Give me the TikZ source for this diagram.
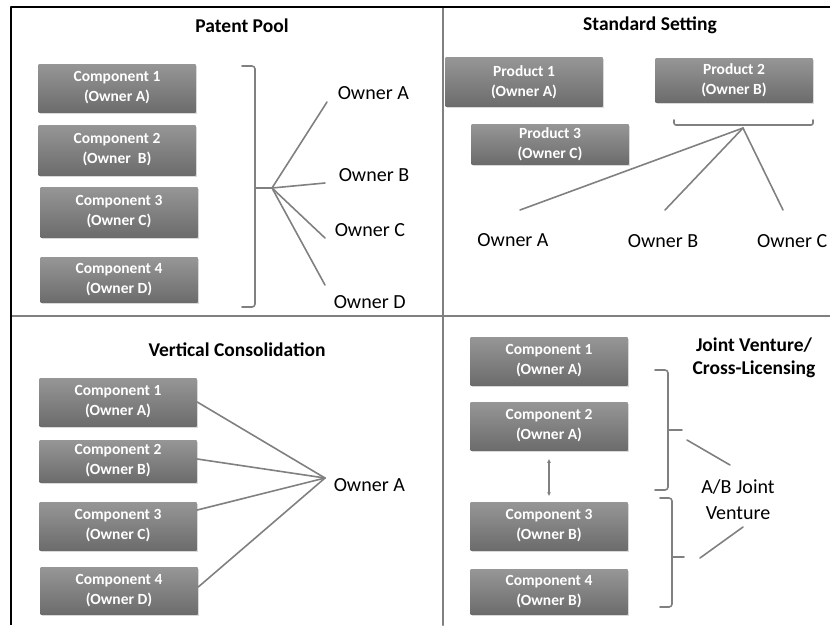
\documentclass[tikz,border=0pt]{standalone}
\usepackage{fontspec}
\setmainfont{Carlito}
\usetikzlibrary{shadows,arrows.meta}
\definecolor{bloccoalto}{RGB}{150,150,150}
\definecolor{bloccobasso}{RGB}{108,108,108}
\definecolor{grigiolinea}{RGB}{128,128,128}

\begin{document}
\begin{tikzpicture}[x=1pt, y=-1pt, line width=1.5pt, line cap=round, line join=round,
    blocco/.style={rectangle, top color=bloccoalto, bottom color=bloccobasso,
        minimum width=157pt, minimum height=48pt, inner sep=0pt, text=white,
        font=\fontsize{15.5}{20}\selectfont\bfseries, align=center,
        drop shadow={shadow xshift=1pt, shadow yshift=-1.5pt, opacity=0.3}},
    titolo/.style={font=\fontsize{19.5}{23}\selectfont\bfseries, align=center},
    proprietario/.style={font=\fontsize{20}{26}\selectfont, align=center, inner sep=0pt},
    filo/.style={draw=grigiolinea, line width=1.6pt}]
    \useasboundingbox (0,0) rectangle (830,625);
    \clip (0,0) rectangle (830,625);
    % Cornice e divisori
    \draw[grigiolinea, line width=2pt] (443,7) -- (443,625);
    \draw[grigiolinea, line width=2pt] (11,316) -- (830,316);
    \draw[black, line width=2.5pt, line cap=butt] (11,625) -- (11,7) -- (830,7);

    % Patent Pool
    \node[titolo] (tpp) at (242,26) {Patent Pool};
    \node[blocco] (pp1) at (117,88) {Component 1\\(Owner A)};
    \node[blocco, minimum height=50pt] (pp2) at (117,150) {Component 2\\(Owner\ \ B)};
    \node[blocco, minimum height=50pt] (pp3) at (119,212) {Component 3\\(Owner C)};
    \node[blocco, minimum height=45pt] (pp4) at (119,280) {Component 4\\(Owner D)};
    \draw[filo, rounded corners=3pt] (242,66) -- (255,66) -- (255,307) -- (242,307);
    \coordinate (ppfulcro) at (272,188);
    \draw[filo] (255,188) -- (ppfulcro);
    \node[proprietario, anchor=west] (ppA) at (337,93) {Owner A};
    \node[proprietario, anchor=west] (ppB) at (338,175) {Owner B};
    \node[proprietario, anchor=west] (ppC) at (334,230) {Owner C};
    \node[proprietario, anchor=west] (ppD) at (333,302) {Owner D};
    \coordinate (ppfineA) at (327,102);
    \coordinate (ppfineB) at (325,183);
    \coordinate (ppfineC) at (325,238);
    \coordinate (ppfineD) at (325,285);
    \foreach \p in {A,B,C,D}
        \draw[filo] (ppfulcro) -- (ppfine\p);

    % Standard Setting
    \node[titolo] (tss) at (650,25) {Standard Setting};
    \node[blocco, minimum height=49pt] (prod1) at (524,82) {Product 1\\(Owner A)};
    \node[blocco, minimum height=44pt] (prod2) at (734,80) {Product 2\\(Owner B)};
    \node[blocco, minimum height=40pt] (prod3) at (550,144) {Product 3\\(Owner C)};
    \draw[filo, rounded corners=2pt] (674,120) -- (674,125) -- (813,125) -- (813,120);
    \coordinate (ssfulcro) at (743,128);
    \node[proprietario] (ssA) at (513,240) {Owner A};
    \node[proprietario] (ssB) at (663,241) {Owner B};
    \node[proprietario, anchor=east] (ssC) at (828,241) {Owner C};
    \coordinate (ssfineA) at (520,210);
    \coordinate (ssfineB) at (665,210);
    \coordinate (ssfineC) at (783,210);
    \foreach \p in {A,B,C}
        \draw[filo] (ssfulcro) -- (ssfine\p);

    % Vertical Consolidation
    \node[titolo] (tvc) at (237,350) {Vertical Consolidation};
    \node[blocco] (vc1) at (118,402) {Component 1\\(Owner A)};
    \node[blocco, minimum height=42pt] (vc2) at (118,461) {Component 2\\(Owner B)};
    \node[blocco] (vc3) at (118,526) {Component 3\\(Owner C)};
    \node[blocco, minimum height=47pt] (vc4) at (119,591) {Component 4\\(Owner D)};
    \node[proprietario, anchor=west] (vcA) at (333,485) {Owner A};
    \coordinate (vcfulcro) at (325,478);
    \draw[filo] (vc1.east) -- (vcfulcro);
    \draw[filo] ([yshift=2pt]vc2.east) -- (vcfulcro);
    \draw[filo] ([yshift=16pt]vc3.east) -- (vcfulcro);
    \draw[filo] ([yshift=4pt]vc4.east) -- (vcfulcro);

    % Joint Venture / Cross-Licensing
    \node[titolo] (tjv) at (754,358) {Joint Venture/\\Cross-Licensing};
    \node[blocco] (jv1) at (549,361) {Component 1\\(Owner A)};
    \node[blocco] (jv2) at (549,426) {Component 2\\(Owner A)};
    \node[blocco] (jv3) at (549,526) {Component 3\\(Owner B)};
    \node[blocco, minimum height=45pt] (jv4) at (549,592) {Component 4\\(Owner B)};
    \draw[grigiolinea, line width=1.2pt, {Latex[length=4pt,width=4pt]}-{Latex[length=4pt,width=4pt]}]
        ([yshift=-8pt]jv2.south) -- ([yshift=5pt]jv3.north);
    \draw[filo, rounded corners=3pt] (655,370) -- (668,370) -- (668,490) -- (655,490);
    \draw[filo] (668,430) -- (682,430);
    \draw[filo, rounded corners=3pt] (660,498) -- (672,498) -- (672,607) -- (660,607);
    \draw[filo] (672,557) -- (684,557);
    \node[proprietario] (jvAB) at (738,500) {A/B Joint\\Venture};
    \coordinate (jvinizio1) at (687,440);
    \coordinate (jvfine1) at (730,465);
    \coordinate (jvinizio2) at (700,558);
    \coordinate (jvfine2) at (743,527);
    \draw[filo] (jvinizio1) -- (jvfine1);
    \draw[filo] (jvinizio2) -- (jvfine2);
\end{tikzpicture}
\end{document}
